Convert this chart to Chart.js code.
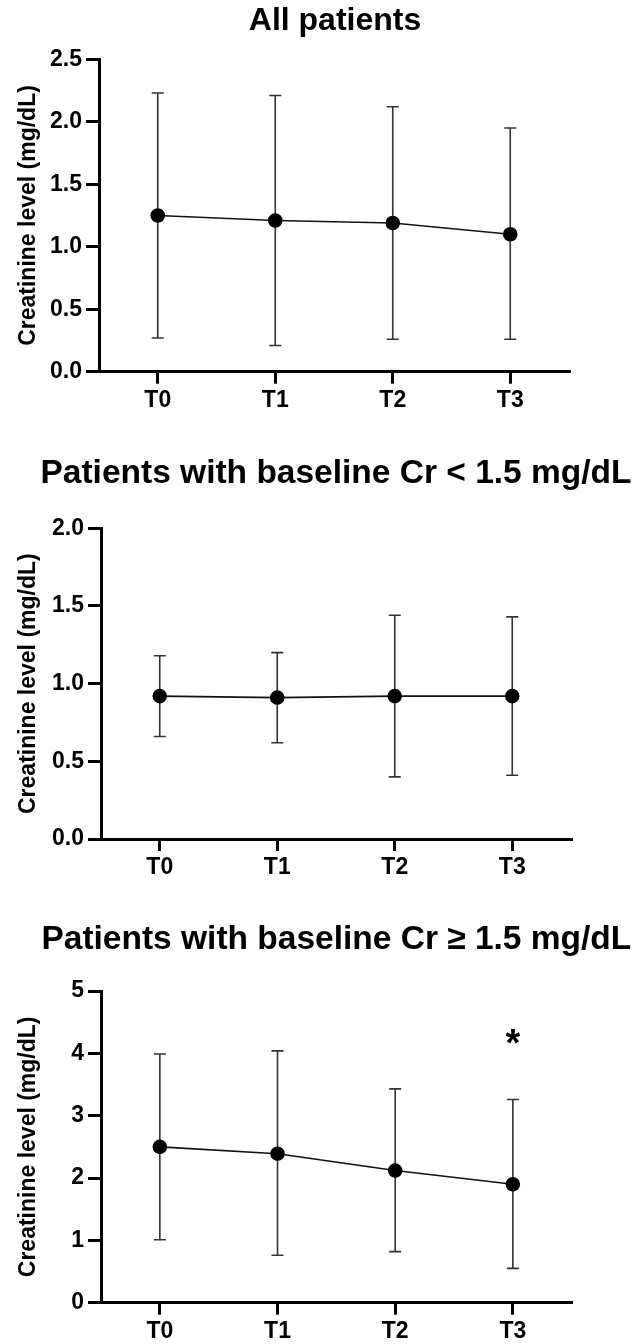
<html lang="en">
<head>
    <title>Creatinine level over time</title>
    <style>
        body { margin: 0; background: #fff; overflow: hidden; }
        canvas { position: absolute; left: 0; }
    </style>
</head>

<body>
    <canvas id="allChart" width="634" height="430" style="top:0px"></canvas>
    <canvas id="lowChart" width="634" height="460" style="top:440px"></canvas>
    <canvas id="highChart" width="634" height="444" style="top:900px"></canvas>

    <script src="https://cdn.jsdelivr.net/npm/chart.js"></script>
    <script>
        // ---- data ----
        const timepoints = ['T0', 'T1', 'T2', 'T3'];

        // all patients
        const all_mean  = [1.25, 1.21, 1.19, 1.10];
        const all_upper = [2.23, 2.21, 2.12, 1.95];
        const all_lower = [0.27, 0.21, 0.26, 0.26];

        // baseline Cr < 1.5
        const low_mean  = [0.92, 0.91, 0.92, 0.92];
        const low_upper = [1.18, 1.20, 1.44, 1.43];
        const low_lower = [0.66, 0.62, 0.40, 0.41];

        // baseline Cr >= 1.5
        const high_mean  = [2.50, 2.39, 2.12, 1.90];
        const high_upper = [3.99, 4.04, 3.43, 3.26];
        const high_lower = [1.01, 0.76, 0.82, 0.55];

        // significance mark: T3, placed at this value
        const high_star_index = 3;
        const high_star_value = 4.27;

        const FONT = '"Liberation Sans", Arial, Helvetica, sans-serif';

        /**
         * Draws the whiskers and caps from the lower/upper arrays
         */
        const errorBars = {
            id: 'errorBars',
            beforeDatasetsDraw(chart, args, opts) {
                const ctx = chart.ctx;
                const x = chart.scales.x, y = chart.scales.y;
                ctx.save();
                ctx.strokeStyle = '#333';
                ctx.lineWidth = 1.6;
                for (let i = 0; i < opts.lower.length; i++) {
                    const px = x.getPixelForValue(i);
                    const top = y.getPixelForValue(opts.upper[i]);
                    const bot = y.getPixelForValue(opts.lower[i]);
                    ctx.beginPath();
                    ctx.moveTo(px, top); ctx.lineTo(px, bot);
                    ctx.moveTo(px - 6, top); ctx.lineTo(px + 6, top);
                    ctx.moveTo(px - 6, bot); ctx.lineTo(px + 6, bot);
                    ctx.stroke();
                }
                if (opts.star) {
                    ctx.fillStyle = '#000';
                    ctx.font = 'bold 38px ' + FONT;
                    ctx.textAlign = 'center';
                    ctx.textBaseline = 'middle';
                    ctx.fillText('*', x.getPixelForValue(opts.star.index), y.getPixelForValue(opts.star.value) + 9);
                }
                ctx.restore();
            }
        };

        /**
         * Panel title centred over the plot area
         */
        const panelTitle = {
            id: 'panelTitle',
            afterDraw(chart, args, opts) {
                const ctx = chart.ctx;
                const area = chart.chartArea;
                ctx.save();
                ctx.fillStyle = '#000';
                ctx.font = 'bold ' + opts.size + 'px ' + FONT;
                ctx.textAlign = 'center';
                ctx.textBaseline = 'alphabetic';
                ctx.fillText(opts.text, (area.left + area.right) / 2 + opts.dx, opts.y);
                ctx.restore();
            }
        };

        /**
         * Build one panel
         */
        function make_panel(id, title, mean, lower, upper, ymax, step, decimals, box, star) {
            return new Chart(document.getElementById(id), {
                type: 'line',
                data: {
                    labels: timepoints,
                    datasets: [{
                        data: mean,
                        borderColor: '#111',
                        borderWidth: 1.6,
                        backgroundColor: '#000',
                        pointBackgroundColor: '#000',
                        pointBorderColor: '#000',
                        pointRadius: 6.5,
                        tension: 0
                    }]
                },
                options: {
                    responsive: false,
                    animation: false,
                    devicePixelRatio: 1,
                    layout: { padding: { left: 0, top: box.top, right: 634 - box.right, bottom: box.padB } },
                    plugins: {
                        legend: { display: false },
                        tooltip: { enabled: false },
                        title: { display: false },
                        errorBars: { lower: lower, upper: upper, star: star },
                        panelTitle: { text: title, y: box.titleY, dx: box.titleDx, size: box.titleSize }
                    },
                    scales: {
                        x: {
                            offset: true,
                            grid: { offset: false, drawOnChartArea: false, tickLength: 12, lineWidth: 3, color: '#000' },
                            border: { display: true, color: '#000', width: 3 },
                            ticks: { color: '#000', padding: 3, font: { family: FONT, size: 23, weight: 'bold' } },
                            afterFit: function (scale) { scale.height = box.xh; }
                        },
                        y: {
                            min: 0,
                            max: ymax,
                            grid: { drawOnChartArea: false, tickLength: 13, lineWidth: 3, color: '#000' },
                            border: { display: true, color: '#000', width: 3 },
                            ticks: {
                                stepSize: step,
                                color: '#000',
                                padding: 4,
                                font: { family: FONT, size: 23, weight: 'bold' },
                                callback: function (v) { return Number(v).toFixed(decimals); }
                            },
                            title: {
                                display: true,
                                text: 'Creatinine level (mg/dL)',
                                color: '#000',
                                font: { family: FONT, size: 23, weight: 'bold' },
                                padding: { top: 15, bottom: 0 }
                            },
                            afterFit: function (scale) { scale.width = box.left; }
                        }
                    }
                },
                plugins: [errorBars, panelTitle]
            });
        }

        // plot-area positions inside each canvas
        make_panel('allChart', 'All patients', all_mean, all_lower, all_upper, 2.5, 0.5, 1,
            { left: 99, right: 569, top: 59.3, padB: 8.3, xh: 50, titleY: 30, titleDx: 1, titleSize: 32 });
        make_panel('lowChart', 'Patients with baseline Cr < 1.5 mg/dL', low_mean, low_lower, low_upper, 2.0, 0.5, 1,
            { left: 101, right: 571, top: 88.3, padB: 11, xh: 50, titleY: 43, titleDx: 0, titleSize: 33.5 });
        make_panel('highChart', 'Patients with baseline Cr \u2265 1.5 mg/dL', high_mean, high_lower, high_upper, 5, 1, 0,
            { left: 101, right: 571.7, top: 91, padB: 0, xh: 41.3, titleY: 49, titleDx: 0, titleSize: 33.5 },
            { index: high_star_index, value: high_star_value });
    </script>
</body>
</html>
